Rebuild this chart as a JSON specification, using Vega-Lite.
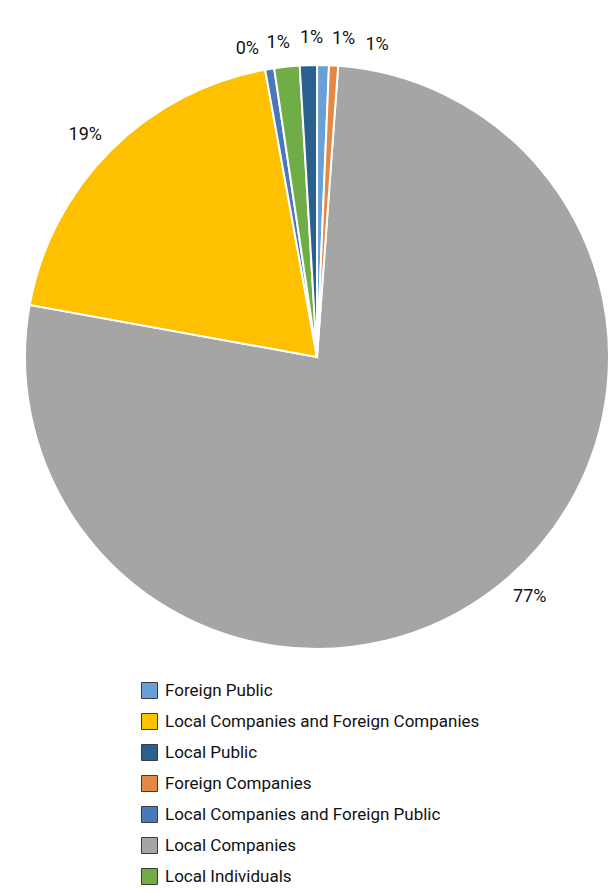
{
  "$schema": "https://vega.github.io/schema/vega-lite/v6.json",
  "width": 584,
  "height": 584,
  "autosize": {"type": "none"},
  "padding": {"left": 25, "top": 65, "right": 7, "bottom": 243},
  "background": "white",
  "data": {
    "values": [
      {"Shareholder": "Local Companies", "Share": 76.7, "Label": "77%"},
      {"Shareholder": "Local Companies and Foreign Companies", "Share": 19.3, "Label": "19%"},
      {"Shareholder": "Local Companies and Foreign Public", "Share": 0.5, "Label": "0%"},
      {"Shareholder": "Local Individuals", "Share": 1.4, "Label": "1%"},
      {"Shareholder": "Local Public", "Share": 0.95, "Label": "1%"},
      {"Shareholder": "Foreign Public", "Share": 0.65, "Label": "1%"},
      {"Shareholder": "Foreign Companies", "Share": 0.5, "Label": "1%"}
    ]
  },
  "transform": [{"window": [{"op": "row_number", "as": "Slice"}]}],
  "encoding": {
    "theta": {
      "field": "Share",
      "type": "quantitative",
      "stack": true,
      "scale": {"range": [0.0726, 6.3558]}
    },
    "order": {"field": "Slice", "type": "quantitative"}
  },
  "layer": [
    {
      "mark": {"type": "arc", "stroke": "white", "strokeWidth": 2},
      "encoding": {
        "color": {
          "field": "Shareholder",
          "type": "nominal",
          "scale": {
            "domain": [
              "Foreign Public",
              "Local Companies and Foreign Companies",
              "Local Public",
              "Foreign Companies",
              "Local Companies and Foreign Public",
              "Local Companies",
              "Local Individuals"
            ],
            "range": ["#69a0d6", "#ffc000", "#2a5f8e", "#e58745", "#4a78bd", "#a5a5a5", "#70ad47"]
          },
          "legend": {
            "title": null,
            "orient": "none",
            "legendX": 116,
            "legendY": 617,
            "symbolType": "square",
            "symbolSize": 256,
            "symbolStrokeColor": "#3b3b3b",
            "symbolStrokeWidth": 1,
            "labelFont": "Roboto",
            "labelFontSize": 17,
            "labelColor": "#111111",
            "labelOffset": 7,
            "labelLimit": 600,
            "rowPadding": 10,
            "encode": {
              "symbols": {"update": {"stroke": {"value": "#3b3b3b"}, "strokeWidth": {"value": 1}}}
            }
          }
        }
      }
    },
    {
      "mark": {"type": "text", "radius": 318, "dx": 18, "dy": -11, "fontSize": 18, "font": "Roboto", "color": "#111111", "align": "center", "baseline": "middle"},
      "encoding": {"text": {"condition": {"test": "datum.Slice == 1", "field": "Label"}, "value": ""}}
    },
    {
      "mark": {"type": "text", "radius": 318, "dx": -7, "dy": 3, "fontSize": 18, "font": "Roboto", "color": "#111111", "align": "center", "baseline": "middle"},
      "encoding": {"text": {"condition": {"test": "datum.Slice == 2", "field": "Label"}, "value": ""}}
    },
    {
      "mark": {"type": "text", "radius": 318, "dx": -18, "dy": 6, "fontSize": 18, "font": "Roboto", "color": "#111111", "align": "center", "baseline": "middle"},
      "encoding": {"text": {"condition": {"test": "datum.Slice == 3", "field": "Label"}, "value": ""}}
    },
    {
      "mark": {"type": "text", "radius": 318, "dx": -6, "dy": 2, "fontSize": 18, "font": "Roboto", "color": "#111111", "align": "center", "baseline": "middle"},
      "encoding": {"text": {"condition": {"test": "datum.Slice == 4", "field": "Label"}, "value": ""}}
    },
    {
      "mark": {"type": "text", "radius": 318, "dx": 4, "dy": -1, "fontSize": 18, "font": "Roboto", "color": "#111111", "align": "center", "baseline": "middle"},
      "encoding": {"text": {"condition": {"test": "datum.Slice == 5", "field": "Label"}, "value": ""}}
    },
    {
      "mark": {"type": "text", "radius": 318, "dx": 20, "dy": 0, "fontSize": 18, "font": "Roboto", "color": "#111111", "align": "center", "baseline": "middle"},
      "encoding": {"text": {"condition": {"test": "datum.Slice == 6", "field": "Label"}, "value": ""}}
    },
    {
      "mark": {"type": "text", "radius": 318, "dx": 42, "dy": 5, "fontSize": 18, "font": "Roboto", "color": "#111111", "align": "center", "baseline": "middle"},
      "encoding": {"text": {"condition": {"test": "datum.Slice == 7", "field": "Label"}, "value": ""}}
    }
  ],
  "config": {
    "view": {"stroke": null}
  }
}
